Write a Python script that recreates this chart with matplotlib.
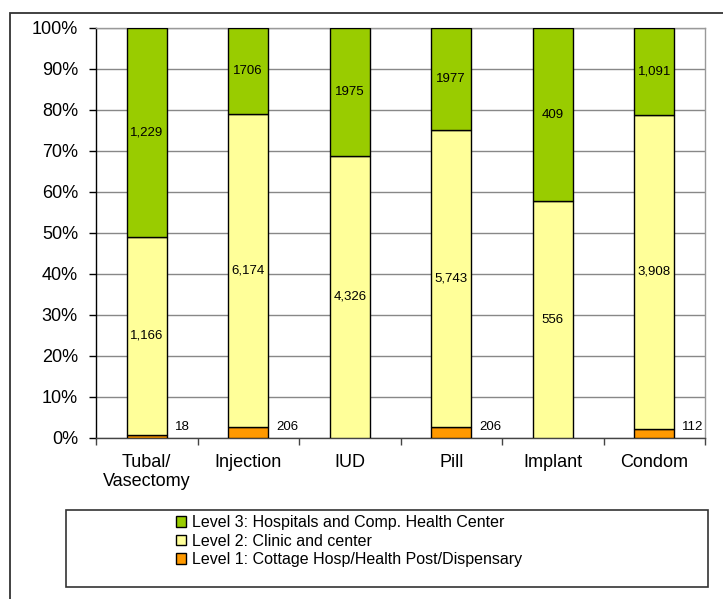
import numpy as np
import matplotlib
matplotlib.use("Agg")
import matplotlib.pyplot as plt
from matplotlib.patches import Rectangle

plt.rcParams['font.family'] = ['Liberation Sans', 'DejaVu Sans']

# service points by level, per contraceptive method
methods = ['Tubal/\nVasectomy', 'Injection', 'IUD', 'Pill', 'Implant', 'Condom']
level1 = [18, 206, 0, 206, 0, 112]
level2 = [1166, 6174, 4326, 5743, 556, 3908]
level3 = [1229, 1706, 1975, 1977, 409, 1091]

l1_text = ['18', '206', '', '206', '', '112']
l2_text = ['1,166', '6,174', '4,326', '5,743', '556', '3,908']
l3_text = ['1,229', '1706', '1975', '1977', '409', '1,091']

series_names = ['Level 1: Cottage Hosp/Health Post/Dispensary',
                'Level 2: Clinic and center',
                'Level 3: Hospitals and Comp. Health Center']
colors = ['#FF9900', '#FFFF99', '#99CC00']

W, H = 723, 599
fig = plt.figure(figsize=(W / 100, H / 100), dpi=100)

# outer chart frame (runs off the right and bottom edges)
fig.patches.append(Rectangle((10 / W, -0.1), 1, 1.1 - 13 / H, transform=fig.transFigure,
                             fill=False, edgecolor='#333333', linewidth=1.3))

ax = fig.add_axes([96 / W, 1 - 437.7 / H, (705 - 96) / W, (437.7 - 27.7) / H])

l1 = np.array(level1, dtype=float)
l2 = np.array(level2, dtype=float)
l3 = np.array(level3, dtype=float)
tot = l1 + l2 + l3
p1, p2, p3 = l1 / tot * 100, l2 / tot * 100, l3 / tot * 100

x = np.arange(len(methods))
bw = 0.394
bars = []
bottom = np.zeros(len(methods))
for vals, c in zip([p1, p2, p3], colors):
    b = ax.bar(x, vals, bw, bottom=bottom, color=c, edgecolor='black', linewidth=1.0, zorder=3)
    bars.append(b)
    bottom = bottom + vals

# value labels
for i in range(len(methods)):
    ax.text(x[i], p1[i] + p2[i] / 2, l2_text[i], ha='center', va='center', fontsize=9.5, zorder=4)
    ax.text(x[i], p1[i] + p2[i] + p3[i] / 2, l3_text[i], ha='center', va='center', fontsize=9.5, zorder=4)
    if l1_text[i]:
        ax.annotate(l1_text[i], (x[i] + bw / 2, 2.6), xytext=(8, 0), textcoords='offset pixels',
                    ha='left', va='center', fontsize=9.5, zorder=4)

ax.set_xlim(-0.5, len(methods) - 0.5)
ax.set_ylim(0, 100)
ax.set_yticks(np.arange(0, 101, 10))
ax.set_yticklabels([f'{v}%' for v in range(0, 101, 10)], fontsize=13)
ax.yaxis.grid(True, color='#888888', linewidth=1.0, zorder=0)
ax.tick_params(axis='y', length=5, width=1, pad=8, color='black')

ax.set_xticks(x)
ax.set_xticklabels(methods, fontsize=13, linespacing=1.1)
ax.set_xticks(np.arange(-0.5, len(methods)), minor=True)
ax.tick_params(axis='x', which='major', length=0, pad=12)
ax.tick_params(axis='x', which='minor', length=5, width=1, color='#444444')

ax.spines['left'].set_color('black')
ax.spines['bottom'].set_color('#444444')
ax.spines['top'].set_color('#999999')
ax.spines['right'].set_color('#999999')
for s in ax.spines.values():
    s.set_linewidth(1.0)

# legend box
fig.patches.append(Rectangle((66 / W, 1 - 587 / H), (708 - 66) / W, (587 - 510) / H,
                             transform=fig.transFigure, fill=False,
                             edgecolor='#333333', linewidth=1.2))
handles = bars[::-1]
labels = series_names[::-1]
leg = fig.legend(handles, labels, loc='center left', bbox_to_anchor=(168 / W, 1 - 541 / H),
                 frameon=False, fontsize=11.5, handlelength=0.65, handleheight=0.65,
                 handletextpad=0.35, labelspacing=0.22, borderpad=0)

fig.savefig('out.png', dpi=100)
